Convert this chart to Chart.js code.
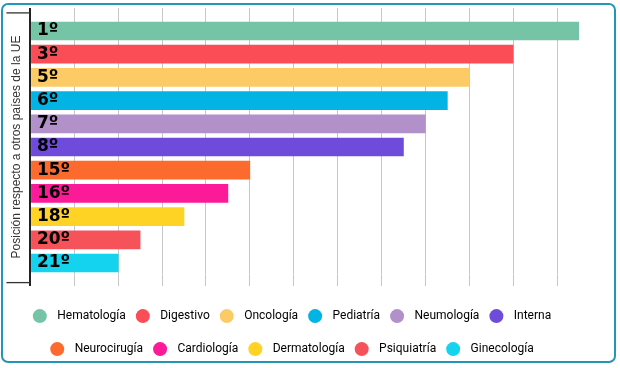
<!DOCTYPE html>
<html>
<head>
<meta charset="utf-8">
<script src="https://cdn.jsdelivr.net/npm/chart.js@4.4.1/dist/chart.umd.min.js"></script>
<style>
  html, body { margin: 0; padding: 0; background: #fff; }
  #frame { position: absolute; left: 1px; top: 3px; width: 611px; height: 356px; border: 2px solid #2396b8; border-radius: 7px; }
  #wrap { position: absolute; left: 0; top: 0; width: 620px; height: 368px; }
</style>
</head>
<body>
<div id="frame"></div>
<div id="wrap"><canvas id="chart"></canvas></div>
<script>
const specialties = ['Hematología', 'Digestivo', 'Oncología', 'Pediatría', 'Neumología', 'Interna',
  'Neurocirugía', 'Cardiología', 'Dermatología', 'Psiquiatría', 'Ginecología'];
const ranks = ['1º', '3º', '5º', '6º', '7º', '8º', '15º', '16º', '18º', '20º', '21º'];
const scores = [25, 22, 20, 19, 18, 17, 10, 9, 7, 5, 4];
const colors = ['#76c4a6', '#fa4d55', '#fccb65', '#02b4e4', '#b290ca', '#6f4bdc',
  '#fc6a2d', '#fd1a98', '#fed324', '#f5525a', '#13d3ee'];
const axisTitle = 'Posición respecto a otros países de la UE';

// round dots for the legend, placed in the boxes the legend lays out
const legendDots = {
  id: 'legendDots',
  afterDraw(chart) {
    const ctx = chart.ctx;
    ctx.save();
    chart.legend.legendHitBoxes.forEach((box, i) => {
      ctx.beginPath();
      ctx.arc(box.left + 7, box.top + box.height / 2, 7, 0, Math.PI * 2);
      ctx.fillStyle = colors[i];
      ctx.fill();
    });
    ctx.restore();
  }
};

// short marks left of the axis, above and below the bars
const axisCaps = {
  id: 'axisCaps',
  afterDraw(chart) {
    const { ctx, chartArea } = chart;
    ctx.save();
    ctx.strokeStyle = '#333';
    ctx.lineWidth = 1.3;
    [chartArea.top - 6.5, chartArea.bottom + 8].forEach(y => {
      ctx.beginPath();
      ctx.moveTo(chartArea.left - 24, y);
      ctx.lineTo(chartArea.left, y);
      ctx.stroke();
    });
    ctx.restore();
  }
};

const gridColor = ctx => (ctx.tick && ctx.tick.value === 0 ? '#222' : '#c6c6c6');
const gridWidth = ctx => (ctx.tick && ctx.tick.value === 0 ? 2 : 1);
const dropMax = scale => { scale.ticks = scale.ticks.filter(t => t.value % 2 === 0); };

new Chart(document.getElementById('chart'), {
  type: 'bar',
  data: {
    labels: ranks,
    datasets: [{
      data: scores,
      backgroundColor: colors,
      borderWidth: 0,
      barThickness: 18
    }]
  },
  options: {
    indexAxis: 'y',
    responsive: true,
    maintainAspectRatio: false,
    animation: false,
    layout: { padding: { left: 5, right: 41, top: 8, bottom: -2.6 } },
    scales: {
      x: {
        position: 'top',
        min: 0,
        max: 25,
        afterBuildTicks: dropMax,
        ticks: { display: false, stepSize: 2 },
        grid: { color: gridColor, lineWidth: gridWidth, tickLength: 11.4 },
        border: { display: false }
      },
      x2: {
        axis: 'x',
        position: 'bottom',
        min: 0,
        max: 25,
        afterBuildTicks: dropMax,
        afterFit: scale => { scale.height = 20; },
        ticks: { display: false, stepSize: 2 },
        grid: { color: gridColor, lineWidth: gridWidth, tickLength: 11.4, drawOnChartArea: false },
        border: { display: false }
      },
      y: {
        afterFit: scale => { scale.width = 25.4; },
        grid: { display: false, drawTicks: false },
        border: { color: '#222', width: 2 },
        ticks: {
          z: 1,
          autoSkip: false,
          mirror: true,
          padding: 6.5,
          color: '#000',
          font: { family: 'DejaVu Sans', weight: 'bold', size: 17 }
        },
        title: {
          display: true,
          text: axisTitle,
          color: '#333',
          font: { family: 'Liberation Sans', size: 12 },
          padding: { top: 4.5, bottom: 0 }
        }
      }
    },
    plugins: {
      tooltip: { enabled: false },
      legend: {
        position: 'bottom',
        onClick: null,
        labels: {
          boxWidth: 18.4,
          boxHeight: 23,
          padding: 10,
          color: '#444',
          font: { family: 'Roboto', size: 12 },
          generateLabels: () => specialties.map((name, i) => ({
            text: name,
            fillStyle: 'rgba(0,0,0,0)',
            strokeStyle: 'rgba(0,0,0,0)',
            lineWidth: 0,
            hidden: false,
            index: i
          }))
        }
      }
    }
  },
  plugins: [legendDots, axisCaps]
});
</script>
</body>
</html>
